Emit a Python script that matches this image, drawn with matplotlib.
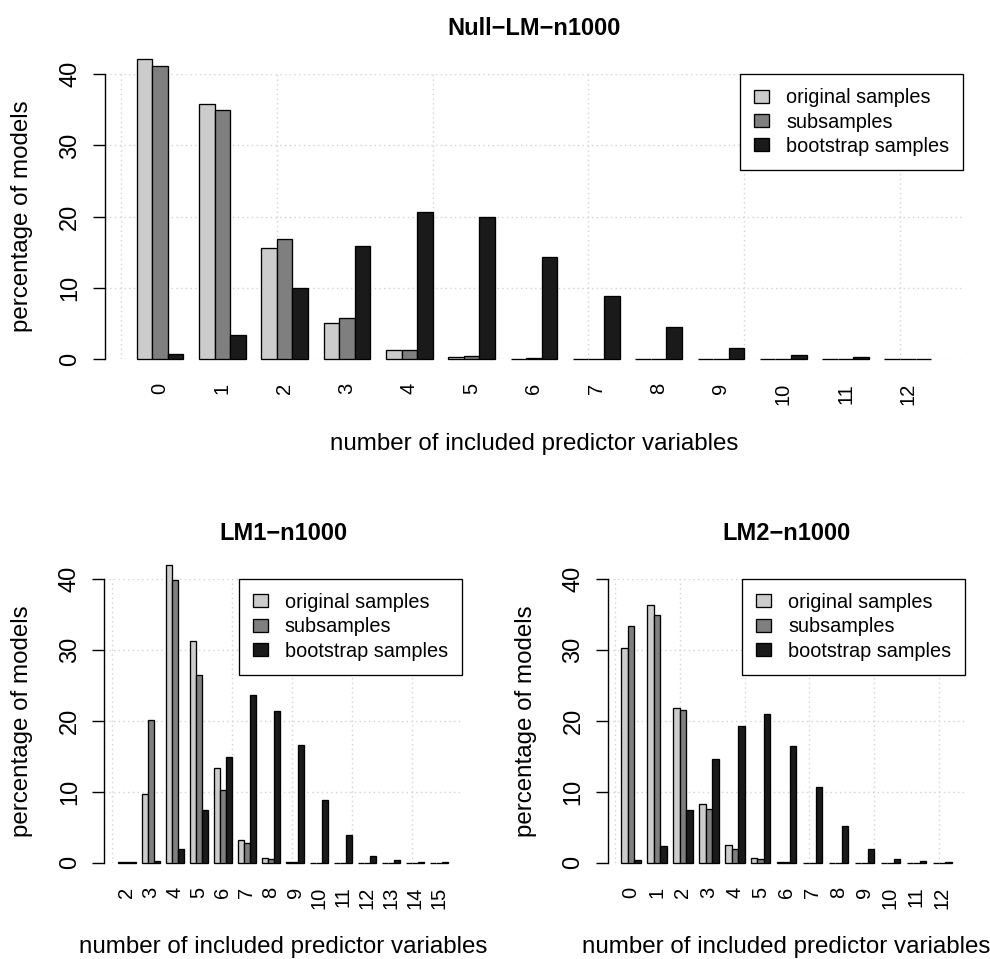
import matplotlib
matplotlib.use("Agg")
import matplotlib.pyplot as plt
from matplotlib.patches import Patch
import numpy as np

plt.rcParams['font.family'] = ['Liberation Sans', 'DejaVu Sans']

# ---------------- data ----------------
series_names = ["original samples", "subsamples", "bootstrap samples"]
series_colors = ["#CCCCCC", "#7F7F7F", "#1A1A1A"]

null_cats = [str(i) for i in range(0, 13)]
null_orig = [42.2, 35.8, 15.6, 5.0, 1.25, 0.25, 0.05, 0.02, 0.0, 0.0, 0.0, 0.0, 0.0]
null_sub = [41.1, 35.0, 16.8, 5.7, 1.2, 0.4, 0.1, 0.03, 0.0, 0.0, 0.0, 0.0, 0.0]
null_boot = [0.65, 3.4, 10.0, 15.9, 20.7, 20.0, 14.4, 8.8, 4.5, 1.6, 0.5, 0.25, 0.05]

lm1_cats = [str(i) for i in range(2, 16)]
lm1_orig = [0.05, 9.7, 42.0, 31.2, 13.3, 3.25, 0.67, 0.05, 0.0, 0.0, 0.0, 0.0, 0.0, 0.0]
lm1_sub = [0.15, 20.1, 39.9, 26.5, 10.2, 2.8, 0.47, 0.05, 0.0, 0.0, 0.0, 0.0, 0.0, 0.0]
lm1_boot = [0.05, 0.25, 2.0, 7.4, 14.9, 23.7, 21.4, 16.6, 8.8, 3.85, 1.0, 0.35, 0.1, 0.05]

lm2_cats = [str(i) for i in range(0, 13)]
lm2_orig = [30.3, 36.4, 21.8, 8.3, 2.5, 0.7, 0.05, 0.02, 0.0, 0.0, 0.0, 0.0, 0.0]
lm2_sub = [33.4, 34.9, 21.6, 7.6, 1.9, 0.5, 0.05, 0.02, 0.0, 0.0, 0.0, 0.0, 0.0]
lm2_boot = [0.45, 2.4, 7.4, 14.6, 19.3, 20.9, 16.4, 10.7, 5.2, 2.0, 0.47, 0.2, 0.05]

yticks = [0, 10, 20, 30, 40]

# ---------------- figure ----------------
W, H = 990, 959
fig = plt.figure(figsize=(W / 100, H / 100), dpi=100)


def rect(l, r, t, b):
    return [l / W, (H - b) / H, (r - l) / W, (b - t) / H]


YTICK_FS = 17
XTICK_FS = 14.5
LAB_FS = 17.4
LEG_FS = 14.3
TITLE_FS = 17.0


def panel(box, cats, vals, title, title_y, xlabel_y, ylabel_x):
    ax = fig.add_axes(rect(*box))
    n = len(cats)
    idx = np.arange(n)
    for j, (v, c) in enumerate(zip(vals, series_colors)):
        ax.bar(1 + 4 * idx + j, v, width=1.0, align='edge', color=c,
               edgecolor='black', linewidth=0.95, zorder=3, clip_on=False)
    span = 4 * n - 1
    ax.set_xlim(1 - 0.04 * span, 4 * n + 0.04 * span)
    ax.set_ylim(0, 40)
    # grid
    for gx in np.arange(0, 4 * n + 1, 10):
        ax.axvline(gx, color='#D3D3D3', lw=1.0, ls=(0, (1, 2.4)), zorder=1)
    for gy in yticks:
        ax.axhline(gy, color='#D3D3D3', lw=1.0, ls=(0, (1, 2.4)), zorder=1)
    for s in ['top', 'right', 'bottom']:
        ax.spines[s].set_visible(False)
    ax.spines['left'].set_linewidth(1.0)
    ax.set_yticks(yticks)
    ax.set_yticklabels([str(t) for t in yticks], fontsize=YTICK_FS)
    ax.tick_params(axis='y', length=9, width=1.0, pad=8, labelrotation=90)
    for lbl in ax.get_yticklabels():
        lbl.set_va('center')
        lbl.set_ha('right')
    ax.set_xticks(1 + 4 * idx + 1.5)
    ax.set_xticklabels(cats, rotation=90, fontsize=XTICK_FS)
    ax.tick_params(axis='x', length=0, pad=17.3)
    handles = [Patch(facecolor=c, edgecolor='black', linewidth=0.95) for c in series_colors]
    leg = ax.legend(handles, series_names, loc='upper right', borderaxespad=0,
                    fancybox=False, framealpha=1, edgecolor='black',
                    fontsize=LEG_FS, handlelength=0.76, handleheight=0.63,
                    handletextpad=0.85, borderpad=0.7, labelspacing=0.27)
    leg.get_frame().set_linewidth(0.95)
    leg.set_zorder(5)
    cx = (box[0] + box[1]) / 2 / W
    fig.text(cx, 1 - title_y / H, title, ha='center', va='baseline',
             fontsize=TITLE_FS, fontweight='bold')
    fig.text(cx, 1 - xlabel_y / H, "number of included predictor variables",
             ha='center', va='baseline', fontsize=LAB_FS)
    cy = 1 - (box[2] + box[3]) / 2 / H
    fig.text(ylabel_x / W, cy, "percentage of models", rotation=90,
             ha='center', va='center', fontsize=LAB_FS)
    return ax


panel((104.9, 963.0, 74.3, 359.0), null_cats, [null_orig, null_sub, null_boot],
      "Null\u2212LM\u2212n1000", 35, 450, 22.5)
panel((104.4, 461.7, 579.0, 862.7), lm1_cats, [lm1_orig, lm1_sub, lm1_boot],
      "LM1\u2212n1000", 540, 953, 22.5)
panel((608.1, 965.2, 579.0, 862.7), lm2_cats, [lm2_orig, lm2_sub, lm2_boot],
      "LM2\u2212n1000", 540, 953, 526)

fig.savefig("out.png", dpi=100)
